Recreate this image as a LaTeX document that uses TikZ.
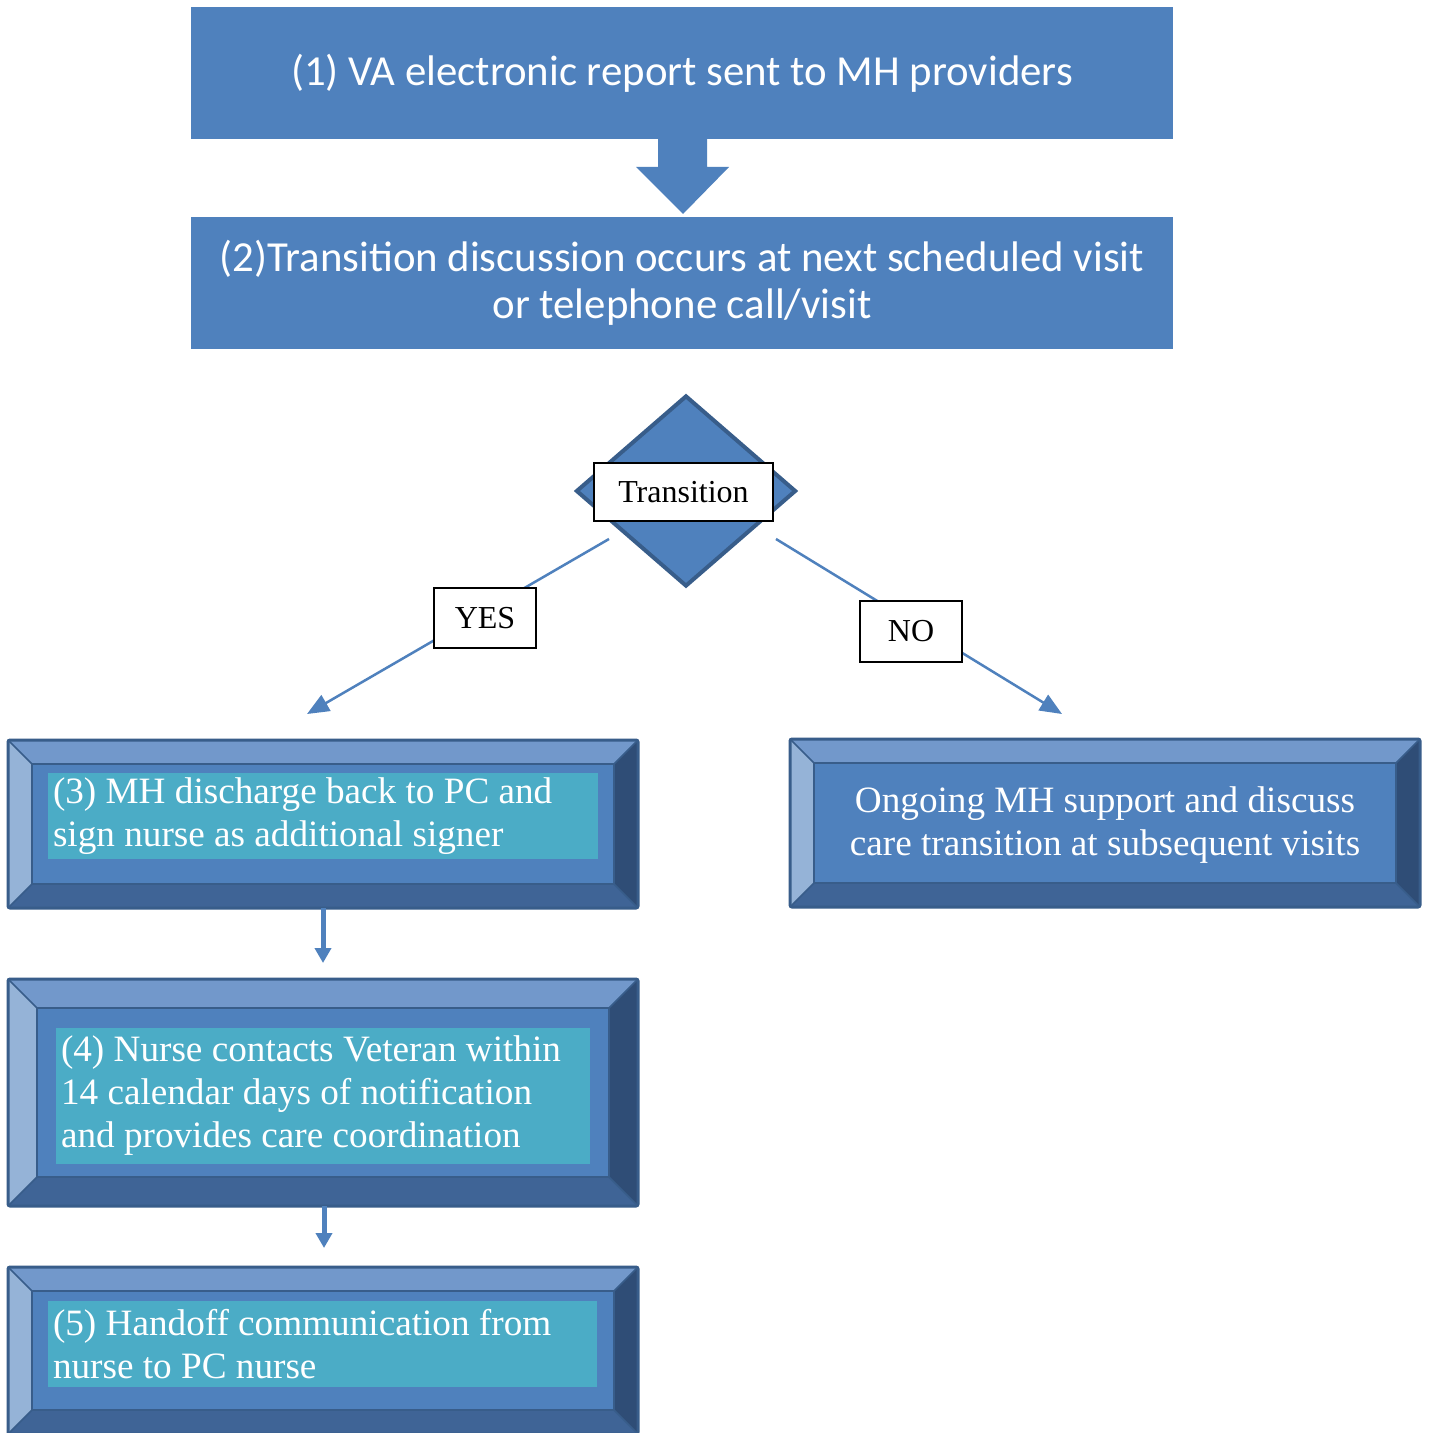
\documentclass[tikz,border=0pt]{standalone}
\usepackage{fontspec}
\setmainfont{Liberation Serif}
\newfontfamily\boxfont{Carlito}
\usetikzlibrary{shapes.geometric,arrows.meta,calc}

\definecolor{mainblue}{RGB}{79,129,189}
\definecolor{darkblue}{RGB}{56,93,138}
\definecolor{toptint}{RGB}{114,152,203}
\definecolor{lefttint}{RGB}{149,179,215}
\definecolor{bottint}{RGB}{63,100,150}
\definecolor{righttint}{RGB}{47,77,118}
\definecolor{tealbox}{RGB}{75,172,198}

% bevelled frame round a node: #1 node name, #2 bevel width
\newcommand{\bevelframe}[2]{%
  \coordinate (o1) at (#1.north west);
  \coordinate (o2) at (#1.north east);
  \coordinate (o3) at (#1.south east);
  \coordinate (o4) at (#1.south west);
  \coordinate (i1) at ($(o1)+(#2,#2)$);
  \coordinate (i2) at ($(o2)+(-#2,#2)$);
  \coordinate (i3) at ($(o3)+(-#2,-#2)$);
  \coordinate (i4) at ($(o4)+(#2,-#2)$);
  \fill[toptint] (o1) -- (o2) -- (i2) -- (i1) -- cycle;
  \fill[lefttint] (o1) -- (i1) -- (i4) -- (o4) -- cycle;
  \fill[bottint] (o4) -- (i4) -- (i3) -- (o3) -- cycle;
  \fill[righttint] (o2) -- (o3) -- (i3) -- (i2) -- cycle;
  \draw[darkblue, line width=0.8pt] (o1) -- (i1) (o2) -- (i2) (o3) -- (i3) (o4) -- (i4);
  \draw[darkblue, line width=1.2pt, fill=mainblue] (i1) rectangle (i3);
  \draw[darkblue, line width=1.5pt, rounded corners=1pt] (o1) rectangle (o3);
}

\begin{document}
\begin{tikzpicture}[x=0.5pt, y=-0.5pt,
  flow box/.style={fill=mainblue, text=white, inner sep=0, outer sep=0, minimum width=491pt, minimum height=66pt, align=center, font=\boxfont\fontsize{21.4}{23.5}\selectfont},
  bevel box/.style={inner sep=0, outer sep=0, minimum width=315pt},
  teal text/.style={fill=tealbox, text=white, inner sep=2.5pt, align=flush left, font=\fontsize{18.6}{21.5}\selectfont},
  tag/.style={draw=black, line width=0.7pt, fill=white, inner sep=0, font=\fontsize{16}{18}\selectfont},
  flow line/.style={draw=mainblue, line width=1.25pt, -{Triangle[length=11pt,width=9pt]}},
  step arrow/.style={draw=mainblue, line width=2.5pt, -{Triangle[length=7.5pt,width=8pt]}}]

  \useasboundingbox[fill=white] (0,0) rectangle (1430,1433);

  % boxes (1) and (2)
  \node[flow box] (box1) at (682,73) {(1) VA electronic report sent to MH providers};
  \node[flow box] (box2) at (682,283) {(2)Transition discussion occurs at next scheduled visit\\or telephone call/visit};

  % block arrow between them
  \fill[mainblue] ($(box1.south)+(-24,0)$) -- ($(box1.south)+(-24,28)$) -- ($(box1.south)+(-46,28)$)
    -- ($(box2.north)+(1,-3)$) -- ($(box1.south)+(47,28)$) -- ($(box1.south)+(25,28)$)
    -- ($(box1.south)+(25,0)$) -- cycle;

  % decision
  \node[diamond, draw=darkblue, line width=2pt, fill=mainblue, minimum width=110pt, minimum height=95.5pt, inner sep=0] (dec) at (686,491) {};
  \node[tag, minimum width=89.5pt, minimum height=29pt] (trans) at (683.5,492) {Transition};

  \coordinate (yesfrom) at (609,539);
  \coordinate (yesto) at (307,714);
  \coordinate (nofrom) at (776,539);
  \coordinate (noto) at (1062,714);
  \draw[flow line] (yesfrom) -- (yesto);
  \draw[flow line] (nofrom) -- (noto);
  \node[tag, minimum width=51pt, minimum height=30pt] (yes) at (485,618) {YES};
  \node[tag, minimum width=51pt, minimum height=30.5pt] (no) at (911,631.5) {NO};

  % bevelled boxes
  \node[bevel box, minimum height=84pt] (box3) at (323,824) {};
  \bevelframe{box3}{24}
  \node[teal text, text width=270pt, minimum height=43pt] (txt3) at (323,816)
    {(3) MH discharge back to PC and\\sign nurse as additional signer};

  \node[bevel box, minimum height=84pt] (ongo) at (1105,823) {};
  \bevelframe{ongo}{24}
  \node[text=white, align=center, font=\fontsize{18.6}{21.5}\selectfont] (txtgo) at (1105,825)
    {Ongoing MH support and discuss\\care transition at subsequent visits};

  \node[bevel box, minimum height=113.5pt] (box4) at (323,1092.5) {};
  \bevelframe{box4}{29}
  \node[teal text, text width=262pt, minimum height=68pt] (txt4) at (323,1096)
    {(4) Nurse contacts Veteran within\\14 calendar days of notification\\and provides care coordination};

  \node[bevel box, minimum height=83.5pt] (box5) at (323,1350.5) {};
  \bevelframe{box5}{24}
  \node[teal text, text width=269.5pt, minimum height=43pt] (txt5) at (322.5,1344)
    {(5) Handoff communication from\\nurse to PC nurse};

  % step arrows
  \draw[step arrow, shorten >=8pt] (box3.south) -- (box4.north);
  \draw[step arrow, shorten >=9.5pt] ($(box4.south)+(1,0)$) -- ($(box5.north)+(1,0)$);
\end{tikzpicture}
\end{document}
